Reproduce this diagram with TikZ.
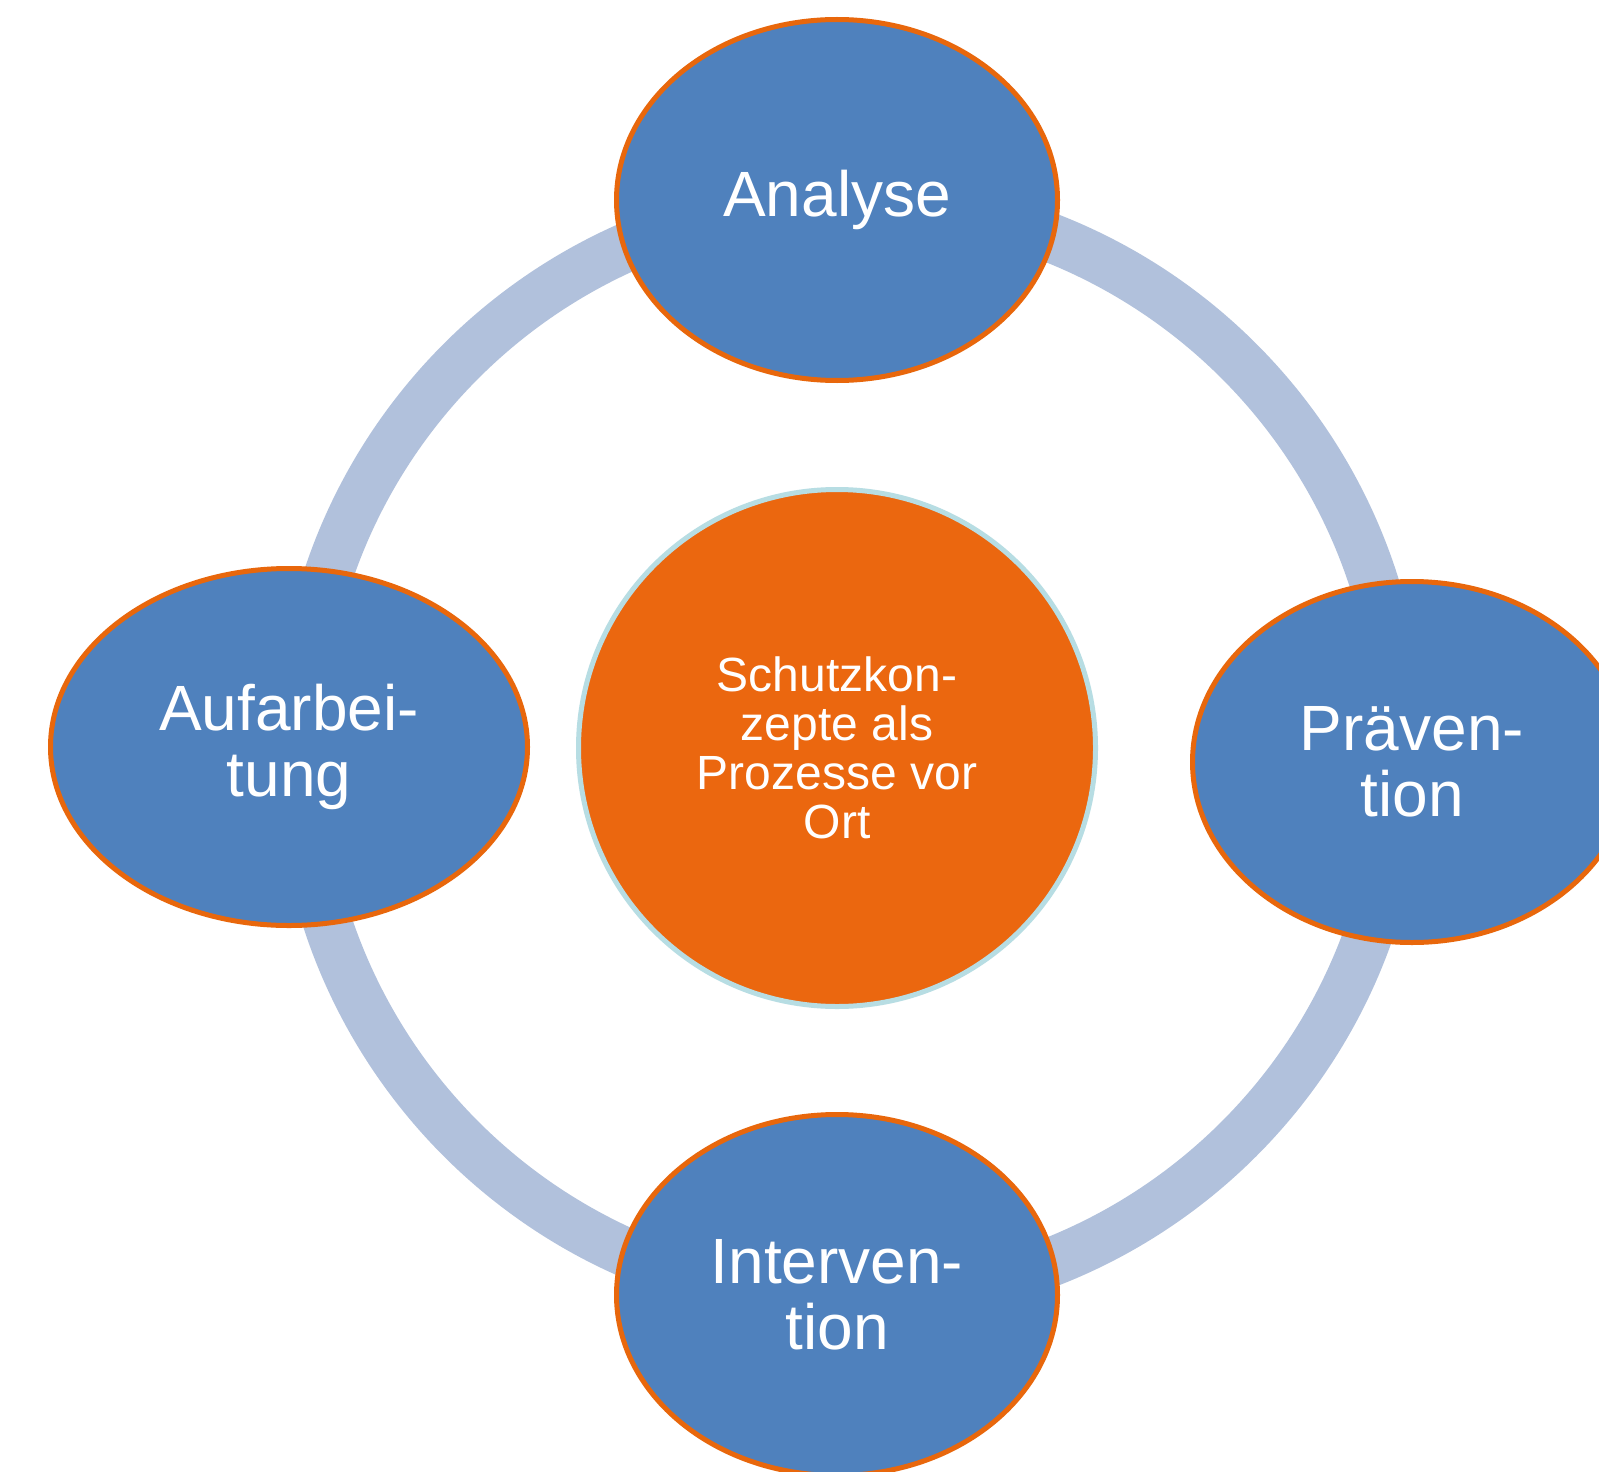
\documentclass[tikz,border=0pt]{standalone}
\usepackage{fontspec}
\setmainfont{Liberation Sans}
\usetikzlibrary{shapes.geometric}
\definecolor{ringcol}{HTML}{B1C1DC}
\definecolor{nodeblue}{HTML}{4F81BD}
\definecolor{nodeorange}{HTML}{E8670C}
\definecolor{hubfill}{HTML}{EB670F}
\definecolor{hubline}{HTML}{B7DDE3}
\begin{document}
\begin{tikzpicture}[x=0.5pt,y=-0.5pt,
  stage/.style={ellipse, draw=nodeorange, line width=2.5pt, fill=nodeblue,
    text=white, font=\fontsize{32}{33}\selectfont, align=center, inner sep=0pt},
  hub/.style={circle, draw=hubline, line width=2.5pt, fill=hubfill,
    text=white, font=\fontsize{24}{24.5}\selectfont, align=center, inner sep=0pt,
    minimum size=258.5pt},
  ring/.style={draw=ringcol, line width=24.5pt}]
\fill[white] (0,0) rectangle (1599,1471);
\useasboundingbox (0,0) rectangle (1599,1471);
\clip (0,0) rectangle (1599,1471);
\coordinate (ringc) at (850,750);
\draw[ring] (ringc) circle [radius=550];
\node[hub] (hub) at (837,748) {Schutzkon-\\zepte als\\Prozesse vor\\Ort};
\node[stage, minimum width=220.5pt, minimum height=180.5pt] (analyse) at (837,200) {Analyse};
\node[stage, minimum width=238.5pt, minimum height=178.5pt] (aufarb) at (289,747) {Aufarbei-\\tung};
\node[stage, minimum width=219.5pt, minimum height=180.5pt] (praev) at (1412,762) {Präven-\\tion};
\node[stage, minimum width=220.5pt, minimum height=180.5pt] (interv) at (837,1295) {Interven-\\tion};
\end{tikzpicture}
\end{document}
